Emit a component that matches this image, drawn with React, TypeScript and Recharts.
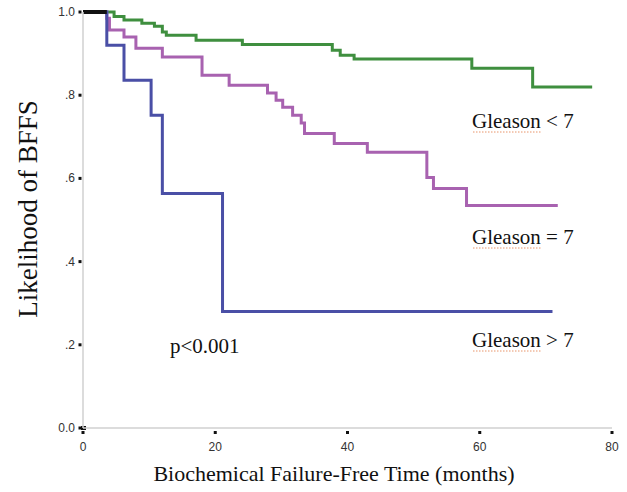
import React from 'react';
import { LineChart, Line, XAxis, YAxis, Customized } from 'recharts';

// Kaplan-Meier style step curves (months, survival)
const lowMonths = [0, 4.7, 6.2, 8.9, 10.8, 12, 12.6, 17.1, 24.1, 37.7, 38.9, 41, 58.8, 68, 77];
const lowSurvival = [1.0, 0.989, 0.981, 0.973, 0.966, 0.952, 0.944, 0.932, 0.922, 0.908, 0.896, 0.887, 0.865, 0.82, 0.82];

const midMonths = [0, 3.6, 4, 6.2, 8, 12, 18, 22.1, 27.9, 29.2, 30.2, 31.7, 33, 33.5, 38, 43, 52, 53, 58, 71.8];
const midSurvival = [1.0, 0.985, 0.957, 0.94, 0.913, 0.892, 0.848, 0.824, 0.805, 0.788, 0.771, 0.752, 0.733, 0.708, 0.684, 0.663, 0.602, 0.576, 0.535, 0.535];

const highMonths = [0, 3.6, 6.2, 10.3, 12, 21.1, 71];
const highSurvival = [1.0, 0.92, 0.836, 0.752, 0.564, 0.28, 0.28];

const overlapMonths = [0, 3.6];
const overlapSurvival = [1.0, 1.0];

const xTicks = [0, 20, 40, 60, 80];
const yTicks = [0, 0.2, 0.4, 0.6, 0.8, 1.0];
const yTickLabels = ['0.0', '.2', '.4', '.6', '.8', '1.0'];

const seriesLabels = ['Gleason < 7', 'Gleason = 7', 'Gleason > 7'];
const pValueLabel = 'p<0.001';

const toPoints = (m: number[], s: number[]) => m.map((month, i) => ({ month, s: s[i] }));

const lowData = toPoints(lowMonths, lowSurvival);
const midData = toPoints(midMonths, midSurvival);
const highData = toPoints(highMonths, highSurvival);
const overlapData = toPoints(overlapMonths, overlapSurvival);

const serif = '"Liberation Serif", "Times New Roman", serif';
const sans = '"Liberation Sans", Arial, sans-serif';

const YTick = (props: any) => {
  const { x, y, payload } = props;
  const idx = yTicks.indexOf(payload.value);
  return (
    <g>
      <rect x={x - 2.5} y={y - 1.5} width={3} height={3} fill="#111" />
      <text x={x - 6} y={y + 4} textAnchor="end" fontFamily={sans} fontSize={12} fill="#333">
        {yTickLabels[idx]}
      </text>
    </g>
  );
};

const XTick = (props: any) => {
  const { x, y, payload } = props;
  return (
    <g>
      <rect x={x - 1.5} y={y + 1} width={3} height={3} fill="#111" />
      <text x={x} y={y + 21} textAnchor="middle" fontFamily={sans} fontSize={12} fill="#333">
        {payload.value}
      </text>
    </g>
  );
};

const Annotations = () => {
  const labelPos = [
    { x: 472, y: 128 },
    { x: 472, y: 244 },
    { x: 472, y: 347 },
  ];
  return (
    <g>
      {seriesLabels.map((t, i) => (
        <g key={t}>
          <text x={labelPos[i].x} y={labelPos[i].y} fontFamily={serif} fontSize={21} fill="#111">
            {t}
          </text>
          <line
            x1={labelPos[i].x + 1}
            x2={labelPos[i].x + 69}
            y1={labelPos[i].y + 4}
            y2={labelPos[i].y + 4}
            stroke="#e8946a"
            strokeWidth={1}
            strokeDasharray="1.5 1.5"
          />
        </g>
      ))}
      <text x={170} y={353} fontFamily={serif} fontSize={21} fill="#111">
        {pValueLabel}
      </text>
      <text
        x={37}
        y={209}
        transform="rotate(-90 37 209)"
        textAnchor="middle"
        fontFamily={serif}
        fontSize={27}
        fill="#111"
      >
        Likelihood of BFFS
      </text>
      <text x={334} y={481} textAnchor="middle" fontFamily={serif} fontSize={22} fill="#111">
        Biochemical Failure-Free Time (months)
      </text>
      <rect x={81} y={426} width={5} height={4} fill="#111" />
    </g>
  );
};

export default function App() {
  return (
    <div style={{ position: 'absolute', left: 0, top: 0, background: '#fff' }}>
      <LineChart width={627} height={492} margin={{ top: 12, right: 15, bottom: 0, left: 0 }}>
        <XAxis
          dataKey="month"
          type="number"
          domain={[0, 80]}
          ticks={xTicks}
          allowDataOverflow
          height={64}
          axisLine={{ stroke: '#d0d0d0', strokeWidth: 1.5 }}
          tickLine={false}
          tickSize={0}
          tick={<XTick />}
          interval={0}
        />
        <YAxis
          type="number"
          domain={[0, 1]}
          ticks={yTicks}
          width={83}
          axisLine={{ stroke: '#d0d0d0', strokeWidth: 1.5 }}
          tickLine={false}
          tickSize={0}
          tick={<YTick />}
          interval={0}
        />
        <Line data={lowData} dataKey="s" type="stepAfter" stroke="#3f8f3f" strokeWidth={3} dot={false} isAnimationActive={false} />
        <Line data={midData} dataKey="s" type="stepAfter" stroke="#a862b0" strokeWidth={3} dot={false} isAnimationActive={false} />
        <Line data={highData} dataKey="s" type="stepAfter" stroke="#4a4fa6" strokeWidth={3} dot={false} isAnimationActive={false} />
        <Line data={overlapData} dataKey="s" type="linear" stroke="#111" strokeWidth={4} dot={false} isAnimationActive={false} />
        <Customized component={Annotations} />
      </LineChart>
    </div>
  );
}
